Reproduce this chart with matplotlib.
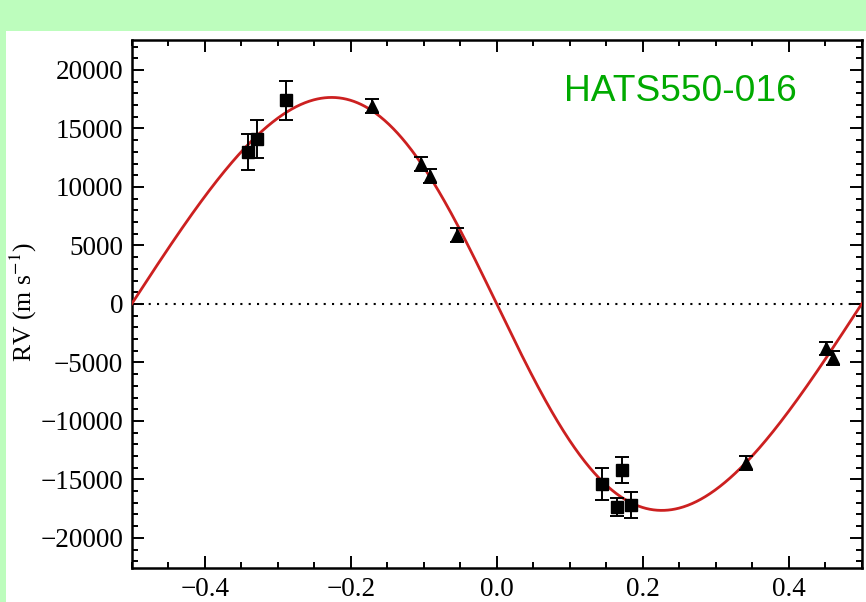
import numpy as np
import matplotlib
matplotlib.use("Agg")
import matplotlib.pyplot as plt
from matplotlib.patches import Rectangle
from matplotlib.ticker import MultipleLocator

plt.rcParams['font.family'] = ['Liberation Serif', 'DejaVu Serif']
plt.rcParams['mathtext.fontset'] = 'stix'

# Data set 1 (squares)
sq_phase = [-0.341, -0.329, -0.289, 0.1436, 0.165, 0.172, 0.184]
sq_rv = [13000, 14100, 17400, -15400, -17380, -14200, -17200]
sq_err = [1560, 1600, 1670, 1350, 780, 1080, 1100]

# Data set 2 (triangles)
tr_phase = [-0.171, -0.104, -0.092, -0.0547, 0.341, 0.4506, 0.460]
tr_rv = [16920, 11940, 10940, 5900, -13620, -3790, -4650]
tr_err = [615, 600, 570, 600, 600, 570, 600]

# Orbit model parameters
K = 17650.0
ecc = 0.075
omega_deg = 90.0

label_text = "HATS550-016"
x_ticks = [-0.4, -0.2, 0.0, 0.2, 0.4]
y_ticks = [-20000, -15000, -10000, -5000, 0, 5000, 10000, 15000, 20000]


def kepler_rv(phase):
    M = 2 * np.pi * phase
    E = M.copy()
    for _ in range(50):
        E = E - (E - ecc * np.sin(E) - M) / (1 - ecc * np.cos(E))
    nu = 2 * np.arctan2(np.sqrt(1 + ecc) * np.sin(E / 2), np.sqrt(1 - ecc) * np.cos(E / 2))
    w = np.radians(omega_deg)
    return K * (np.cos(nu + w) + ecc * np.cos(w))


W, H = 866, 602
fig = plt.figure(figsize=(W / 100, H / 100), dpi=100)
fig.patch.set_facecolor('#bdfdbd')
fig.add_artist(Rectangle((6 / W, 0), 1 - 6 / W, (H - 31) / H, transform=fig.transFigure,
                         facecolor='white', edgecolor='none', zorder=0))

ax = fig.add_axes([131.7 / W, (H - 568.3) / H, (861.7 - 131.7) / W, (568.3 - 40) / H])
ax.set_facecolor('white')

ph = np.linspace(-0.5, 0.5, 1000)
ax.plot(ph, kepler_rv(ph), color='#cc2020', lw=2.0, zorder=3)
ax.axhline(0, color='black', ls=(0, (1, 3.0)), lw=1.5, zorder=2)

ax.errorbar(sq_phase, sq_rv, yerr=sq_err, fmt='s', color='black', ms=8,
            capsize=5, elinewidth=1.4, capthick=1.4, zorder=4)
ax.errorbar(tr_phase, tr_rv, yerr=tr_err, fmt='^', color='black', ms=8,
            capsize=5, elinewidth=1.4, capthick=1.4, zorder=4)

ax.set_xlim(-0.5, 0.5)
ax.set_ylim(-22600, 22560)
ax.set_xticks(x_ticks)
ax.set_xticklabels([f"{v:.1f}".replace('-', '\u2212') for v in x_ticks], fontsize=19.5)
ax.set_yticks(y_ticks)
ax.set_yticklabels([str(v).replace('-', '\u2212') for v in y_ticks], fontsize=19.5)
ax.xaxis.set_minor_locator(MultipleLocator(0.05))
ax.yaxis.set_minor_locator(MultipleLocator(1000))
ax.tick_params(which='both', direction='in', top=True, right=True, width=1.4, pad=6)
ax.tick_params(which='major', length=8.5)
ax.tick_params(which='minor', length=4.2)
for s in ax.spines.values():
    s.set_linewidth(1.8)

ax.set_ylabel(r'RV (m s$^{-1}$)', fontsize=18.5, va='center')
ax.yaxis.set_label_coords((23 - 131.7) / (861.7 - 131.7), (568.3 - 302) / (568.3 - 40))

ax.text(0.911, 0.902, label_text, transform=ax.transAxes, ha='right', va='center',
        fontsize=26.7, color='#00aa00', family=['Liberation Sans', 'DejaVu Sans'])

fig.savefig('out.png', dpi=100, facecolor=fig.get_facecolor())
